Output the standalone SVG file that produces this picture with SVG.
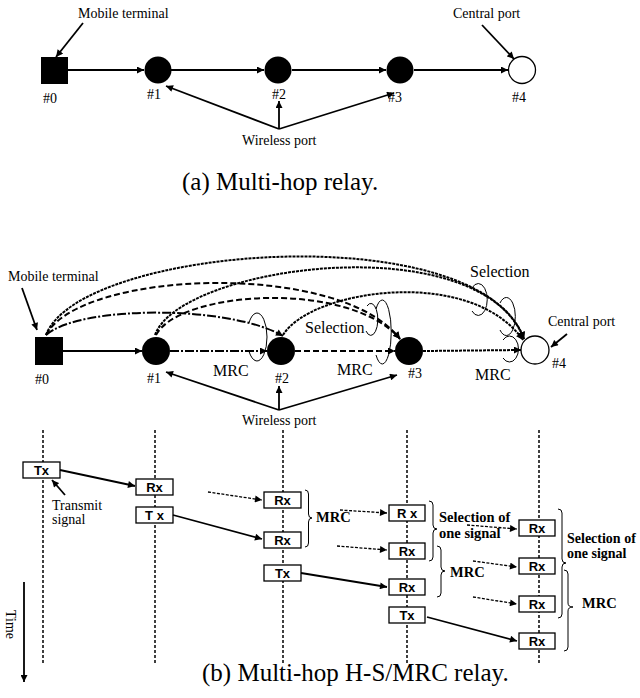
<svg xmlns="http://www.w3.org/2000/svg" width="640" height="698" viewBox="0 0 640 698">
<style>
.t{font-family:"Liberation Serif","Times New Roman",serif;font-size:14px;fill:#000}
.L{font-size:16px}
.cap{font-family:"Liberation Serif","Times New Roman",serif;font-size:25px;fill:#000}
.ln{fill:none;stroke:#000;stroke-width:1.8}
.thin{fill:none;stroke:#000;stroke-width:1}
.dd{fill:none;stroke:#000;stroke-width:2;stroke-dasharray:9 2 2 2}
.ds{fill:none;stroke:#000;stroke-width:2;stroke-dasharray:6 3}
.dt{fill:none;stroke:#000;stroke-width:2;stroke-dasharray:3 1}
.vl{fill:none;stroke:#000;stroke-width:1.5;stroke-dasharray:3 2}
.dar{fill:none;stroke:#000;stroke-width:1.3;stroke-dasharray:3 1.5}
.bx{fill:#fff;stroke:#000;stroke-width:1.3}
.bt{font-family:"Liberation Sans",Arial,sans-serif;font-weight:bold;font-size:13px;text-anchor:middle;fill:#000}
.bb{font-family:"Liberation Serif","Times New Roman",serif;font-weight:bold;font-size:14.5px;fill:#000}
.node{fill:#000}
</style>
<defs>
<marker id="ah" viewBox="0 0 10 10" refX="10" refY="5" markerWidth="8" markerHeight="7" markerUnits="userSpaceOnUse" orient="auto"><path d="M0,0 L10,5 L0,10 z"/></marker>
</defs>

<!-- (a) Multi-hop relay -->
<g id="a-n0"><rect class="node" x="41" y="57" width="27" height="27"/><text class="t" x="50" y="103" text-anchor="middle">#0</text></g>
<g id="a-n1"><circle class="node" cx="158" cy="70" r="13.5"/><text class="t" x="154" y="99" text-anchor="middle">#1</text></g>
<g id="a-n2"><circle class="node" cx="278" cy="70" r="13.5"/><text class="t" x="279" y="99" text-anchor="middle">#2</text></g>
<g id="a-n3"><circle class="node" cx="400" cy="70" r="13.5"/><text class="t" x="395" y="102" text-anchor="middle">#3</text></g>
<g id="a-n4"><circle cx="522" cy="70" r="13.5" fill="#fff" stroke="#000" stroke-width="1.3"/><text class="t" x="519" y="102" text-anchor="middle">#4</text></g>
<g id="a-labels">
<text class="t" x="78" y="18">Mobile terminal</text>
<text class="t" x="453" y="18">Central port</text>
<text class="t" x="242" y="145">Wireless port</text>
<text class="cap" x="182" y="190">(a) Multi-hop relay.</text>
</g>
<g id="a-connectors">
<line class="ln" x1="68" y1="70" x2="144" y2="70" marker-end="url(#ah)"/>
<line class="ln" x1="171" y1="70" x2="264" y2="70" marker-end="url(#ah)"/>
<line class="ln" x1="292" y1="70" x2="386" y2="70" marker-end="url(#ah)"/>
<line class="ln" x1="414" y1="70" x2="508" y2="70" marker-end="url(#ah)"/>
<line class="ln" x1="83" y1="23" x2="56" y2="57" marker-end="url(#ah)"/>
<line class="ln" x1="482" y1="25" x2="514" y2="59" marker-end="url(#ah)"/>
<line class="ln" x1="279" y1="129" x2="166" y2="86" marker-end="url(#ah)"/>
<line class="ln" x1="279" y1="129" x2="279" y2="101" marker-end="url(#ah)"/>
<line class="ln" x1="279" y1="129" x2="394" y2="93" marker-end="url(#ah)"/>
</g>

<!-- (b) Multi-hop H-S/MRC relay -->
<g id="b-n0"><rect class="node" x="35" y="337" width="28" height="28"/><text class="t" x="42" y="384" text-anchor="middle">#0</text></g>
<g id="b-n1"><circle class="node" cx="156" cy="351" r="14"/><text class="t" x="154" y="383" text-anchor="middle">#1</text></g>
<g id="b-n2"><circle class="node" cx="281" cy="351" r="14"/><text class="t" x="282" y="383" text-anchor="middle">#2</text></g>
<g id="b-n3"><circle class="node" cx="409" cy="351" r="14"/><text class="t" x="415" y="378" text-anchor="middle">#3</text></g>
<g id="b-n4"><circle cx="535" cy="350" r="14" fill="#fff" stroke="#000" stroke-width="1.3"/><text class="t" x="559" y="368" text-anchor="middle">#4</text></g>
<g id="b-labels">
<text class="t" x="8" y="281">Mobile terminal</text>
<text class="t" x="548" y="326">Central port</text>
<text class="t" x="242" y="425">Wireless port</text>
<text class="t L" x="213" y="376">MRC</text>
<text class="t L" x="337" y="375">MRC</text>
<text class="t L" x="475" y="380">MRC</text>
<text class="t L" x="305" y="333">Selection</text>
<text class="t L" x="470" y="277">Selection</text>
</g>
<g id="b-connectors">
<path class="dt" d="M46,335 C80,245 480,215 524,339" marker-end="url(#ah)"/>
<path class="dt" d="M155,335 C180,265 480,225 524,339" marker-end="url(#ah)"/>
<path class="dt" d="M283,335 C310,290 470,265 523,340" marker-end="url(#ah)"/>
<path class="ds" d="M46,335 C80,270 340,260 400,339" marker-end="url(#ah)"/>
<path class="ds" d="M156,335 C180,290 350,280 400,339" marker-end="url(#ah)"/>
<path class="dd" d="M46,335 C80,305 230,305 283,336" marker-end="url(#ah)"/>
<line class="ln" x1="63" y1="351" x2="142" y2="351" marker-end="url(#ah)"/>
<line class="dd" x1="170" y1="351" x2="267" y2="351" marker-end="url(#ah)"/>
<line class="ds" x1="295" y1="351" x2="395" y2="351" marker-end="url(#ah)"/>
<line class="dt" x1="423" y1="351" x2="521" y2="350" marker-end="url(#ah)"/>
<line class="ln" x1="22" y1="288" x2="37" y2="330" marker-end="url(#ah)"/>
<line class="ln" x1="567" y1="334" x2="551" y2="347" marker-end="url(#ah)"/>
<line class="ln" x1="279" y1="410" x2="166" y2="372" marker-end="url(#ah)"/>
<line class="ln" x1="279" y1="410" x2="279" y2="386" marker-end="url(#ah)"/>
<line class="ln" x1="279" y1="410" x2="397" y2="375" marker-end="url(#ah)"/>
<!-- combining loops -->
<path class="thin" d="M249,322.6 A10 24 0 1 1 249,351.4"/>
<path class="thin" d="M367,306 A7 16 0 1 1 366,331"/>
<path class="thin" d="M376,309 A9 32 0 1 1 376,355"/>
<path class="thin" d="M472,288 A9 16 0 1 1 472,311"/>
<path class="thin" d="M500,303 A9 19 0 1 1 500,330"/>
<path class="thin" d="M503,340 A9 13 0 1 1 503,358"/>
</g>

<!-- time chart -->
<g id="time-axis">
<line class="vl" x1="43" y1="430" x2="43" y2="664"/>
<line class="vl" x1="155" y1="430" x2="155" y2="664"/>
<line class="vl" x1="283" y1="430" x2="283" y2="664"/>
<line class="vl" x1="407" y1="430" x2="407" y2="664"/>
<line class="vl" x1="539" y1="430" x2="539" y2="664"/>
<line class="ln" x1="24" y1="582" x2="24" y2="682" marker-end="url(#ah)"/>
<text class="t" transform="translate(6,610) rotate(90)">Time</text>
</g>
<g id="col0"><rect class="bx" x="23" y="462" width="37" height="16"/><text class="bt" x="41.5" y="475">Tx</text>
<text class="t" x="52" y="510">Transmit</text><text class="t" x="52" y="524">signal</text></g>
<g id="col1"><rect class="bx" x="136" y="479" width="37" height="16"/><text class="bt" x="154.5" y="492">Rx</text>
<rect class="bx" x="136" y="507" width="37" height="16"/><text class="bt" x="154.5" y="520">T x</text></g>
<g id="col2"><rect class="bx" x="264" y="492" width="37" height="16"/><text class="bt" x="282.5" y="505">Rx</text>
<rect class="bx" x="264" y="532" width="37" height="16"/><text class="bt" x="282.5" y="545">Rx</text>
<rect class="bx" x="264" y="565" width="37" height="16"/><text class="bt" x="282.5" y="578">Tx</text></g>
<g id="col3"><rect class="bx" x="389" y="505" width="36" height="16"/><text class="bt" x="407" y="518">R x</text>
<rect class="bx" x="389" y="543" width="36" height="16"/><text class="bt" x="407" y="556">Rx</text>
<rect class="bx" x="389" y="579" width="36" height="16"/><text class="bt" x="407" y="592">Rx</text>
<rect class="bx" x="389" y="607" width="36" height="16"/><text class="bt" x="407" y="620">Tx</text></g>
<g id="col4"><rect class="bx" x="519" y="520" width="36" height="16"/><text class="bt" x="537" y="533">Rx</text>
<rect class="bx" x="519" y="558" width="36" height="16"/><text class="bt" x="537" y="571">Rx</text>
<rect class="bx" x="519" y="596" width="36" height="16"/><text class="bt" x="537" y="609">Rx</text>
<rect class="bx" x="519" y="633" width="36" height="16"/><text class="bt" x="537" y="646">Rx</text></g>
<g id="time-labels">
<text class="bb" x="316" y="522">MRC</text>
<text class="bb" x="439" y="522">Selection of</text>
<text class="bb" x="439" y="538">one signal</text>
<text class="bb" x="450" y="577">MRC</text>
<text class="bb" x="567" y="543" style="font-size:14px">Selection of</text>
<text class="bb" x="567" y="558" style="font-size:14px">one signal</text>
<text class="bb" x="582" y="608">MRC</text>
<text class="cap" x="202" y="681">(b) Multi-hop H-S/MRC relay.</text>
</g>
<g id="time-connectors">
<line class="ln" x1="65" y1="495" x2="52" y2="480" marker-end="url(#ah)"/>
<line class="ln" x1="60" y1="470" x2="135" y2="486" marker-end="url(#ah)"/>
<line class="dar" x1="208" y1="492" x2="262" y2="500" marker-end="url(#ah)"/>
<line class="ln" x1="173" y1="515" x2="262" y2="539" marker-end="url(#ah)"/>
<line class="dar" x1="340" y1="510" x2="387" y2="513" marker-end="url(#ah)"/>
<line class="dar" x1="337" y1="546" x2="387" y2="550" marker-end="url(#ah)"/>
<line class="ln" x1="301" y1="573" x2="387" y2="587" marker-end="url(#ah)"/>
<line class="dar" x1="467" y1="525" x2="517" y2="529" marker-end="url(#ah)"/>
<line class="dar" x1="473" y1="561" x2="517" y2="567" marker-end="url(#ah)"/>
<line class="dar" x1="473" y1="597" x2="517" y2="604" marker-end="url(#ah)"/>
<line class="ln" x1="427" y1="617" x2="517" y2="641" marker-end="url(#ah)"/>
<path class="thin" d="M305,490 Q308.5,490 308.5,494 L308.5,514 Q308.5,518 312,518 Q308.5,518 308.5,522 L308.5,543 Q308.5,547 305,547"/>
<path class="thin" d="M429,501 Q433,501 433,505 L433,525 Q433,529 437,529 Q433,529 433,533 L433,557 Q433,561 429,561"/>
<path class="thin" d="M437,546 Q441,546 441,550 L441,567 Q441,571 445,571 Q441,571 441,575 L441,593 Q441,597 437,597"/>
<path class="thin" d="M558,509 Q562,509 562,513 L562,559 Q562,563 566,563 Q562,563 562,567 L562,614 Q562,618 558,618"/>
<path class="thin" d="M564,570 Q568,570 568,574 L568,603 Q568,607 573,607 Q568,607 568,611 L568,647 Q568,651 564,651"/>
</g>
</svg>
